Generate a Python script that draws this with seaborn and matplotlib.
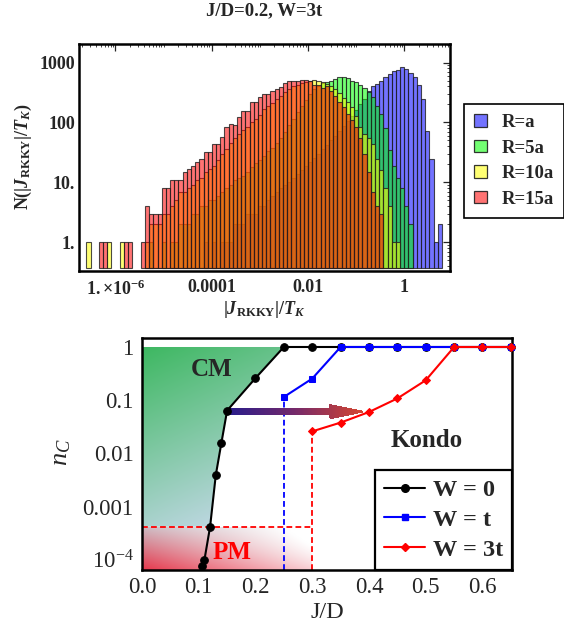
import numpy as np
import matplotlib
matplotlib.use("Agg")
import matplotlib.pyplot as plt
import seaborn as sns
from matplotlib.patches import Polygon, Rectangle
from matplotlib.lines import Line2D
from matplotlib.colors import LinearSegmentedColormap
from matplotlib.ticker import LogLocator, NullFormatter, MultipleLocator, FixedLocator

# --------------------------------------------------------------------------- #
# Data
# --------------------------------------------------------------------------- #
# Histogram of |J_RKKY|/T_K : bins are 0.2 wide in ln(x), first edge at ln x = -15.2
LN_START, LN_STEP = -15.2, 0.2

counts_r1 = [0, 0, 0, 0, 0, 0, 0, 0, 0, 0,
             0, 0, 0, 0, 0, 0, 0, 0, 0, 0,
             0, 0, 0, 0, 0, 0, 0, 0, 1, 0,
             1, 0, 1, 1, 1, 2, 2, 2, 3, 3,
             3, 4, 4, 5, 6, 7, 8, 9, 10, 12,
             14, 16, 19, 22, 26, 30, 36, 42, 50, 60,
             72, 88, 105, 130, 160, 200, 250, 330, 400, 440,
             500, 566, 650, 713, 760, 850, 780, 680, 580, 415,
             250, 73, 25, 1, 2]
counts_r5 = [0, 0, 0, 0, 0, 0, 0, 0, 0, 0,
             0, 0, 0, 0, 0, 1, 0, 0, 1, 0,
             1, 1, 2, 2, 2, 3, 3, 4, 4, 5,
             5, 6, 7, 8, 9, 11, 12, 13, 15, 18,
             21, 24, 28, 33, 38, 45, 55, 70, 90, 115,
             150, 190, 240, 300, 360, 410, 450, 470, 500, 535,
             566, 580, 550, 500, 470, 415, 370, 320, 270, 190,
             139, 80, 35, 19, 12, 8, 4, 2, 0, 0,
             0, 0, 0, 0, 0]
counts_r10 = [1, 0, 0, 0, 0, 1, 0, 0, 1, 0,
              0, 0, 0, 0, 1, 2, 2, 2, 3, 3,
              4, 5, 7, 7, 8, 9, 11, 12, 15, 17,
              19, 24, 30, 36, 45, 55, 65, 75, 85, 100,
              115, 135, 165, 190, 215, 245, 280, 320, 360, 400,
              430, 460, 480, 500, 515, 490, 470, 440, 400, 360,
              310, 260, 220, 180, 130, 85, 65, 55, 44, 25,
              16, 8, 4, 1, 1, 0, 0, 0, 0, 0,
              0, 0, 0, 0, 0]
counts_r15 = [0, 0, 0, 1, 1, 0, 0, 0, 0, 1,
              1, 0, 0, 1, 4, 3, 3, 3, 8, 8,
              11, 11, 11, 15, 17, 19, 22, 25, 32, 32,
              44, 44, 57, 83, 95, 89, 122, 158, 158, 218,
              218, 263, 300, 300, 340, 360, 390, 455, 485, 485,
              500, 520, 515, 500, 430, 420, 380, 400, 340, 280,
              220, 180, 140, 110, 85, 55, 30, 15, 7, 4,
              3, 0, 0, 0, 0, 0, 0, 0, 0, 0,
              0, 0, 0, 0, 0]
hist_labels = ["R=a", "R=5a", "R=10a", "R=15a"]

# Phase diagram n_C vs J/D
jd_w0 = [0.105, 0.11, 0.12, 0.13, 0.14, 0.15, 0.20, 0.25, 0.30, 0.35, 0.40, 0.45, 0.50, 0.55, 0.60, 0.65]
nc_w0 = [7.8e-5, 1.0e-4, 4.2e-4, 0.0039, 0.016, 0.064, 0.26, 1, 1, 1, 1, 1, 1, 1, 1, 1]
jd_wt = [0.25, 0.30, 0.35, 0.40, 0.45, 0.50, 0.55, 0.60, 0.65]
nc_wt = [0.115, 0.255, 1, 1, 1, 1, 1, 1, 1]
jd_w3t = [0.30, 0.35, 0.40, 0.45, 0.50, 0.55, 0.60, 0.65]
nc_w3t = [0.026, 0.038, 0.060, 0.108, 0.237, 1, 1, 1]
pm_boundary = 4.2e-4
arrow_from, arrow_to, arrow_level = 0.15, 0.387, 0.061

# --------------------------------------------------------------------------- #
# Style
# --------------------------------------------------------------------------- #
sns.set_style("white")
plt.rcParams.update({
    "font.family": "Liberation Serif",
    "mathtext.fontset": "custom",
    "mathtext.rm": "Liberation Serif",
    "mathtext.it": "Liberation Serif:italic",
    "mathtext.bf": "Liberation Serif:bold",
    "mathtext.bfit": "Liberation Serif:italic:bold",
    "axes.linewidth": 1.8,
    "axes.edgecolor": "black",
})

FIG_W, FIG_H = 564, 631
fig = plt.figure(figsize=(FIG_W / 100, FIG_H / 100), dpi=100)


def px_axes(left, top, right, bottom):
    return fig.add_axes([left / FIG_W, 1 - bottom / FIG_H,
                         (right - left) / FIG_W, (bottom - top) / FIG_H])


ax1 = px_axes(79, 44, 450, 271)
ax2 = px_axes(142, 338, 512, 570)

# --------------------------------------------------------------------------- #
# Top: layered histograms
# --------------------------------------------------------------------------- #
n_bins = len(counts_r1)
log_edges = (LN_START + LN_STEP * np.arange(n_bins + 1)) / np.log(10)
centers = 10 ** (0.5 * (log_edges[:-1] + log_edges[1:]))
hist_colors = [(0, 0, 1), (0, 1, 0), (1, 1, 0), (1, 0, 0)]
BAR_BASE = 0.37

for counts, rgb in zip([counts_r1, counts_r5, counts_r10, counts_r15], hist_colors):
    n0 = len(ax1.patches)
    sns.histplot(x=centers, weights=np.asarray(counts, float),
                 binwidth=LN_STEP / np.log(10),
                 binrange=(log_edges[0], log_edges[-1] - 1e-9),
                 log_scale=True, ax=ax1, color=rgb, legend=False)
    for p in ax1.patches[n0:]:
        c = p.get_height()
        if c <= 0.5:
            p.set_visible(False)
            continue
        p.set_alpha(None)
        p.set_facecolor((*rgb, 0.55))
        p.set_edgecolor((0.12, 0.12, 0.12, 0.8))
        p.set_linewidth(0.8)
        p.set_y(BAR_BASE)
        p.set_height(c - BAR_BASE)

ax1.set_yscale("log")
ax1.set_xlim(10 ** -6.755, 10 ** 0.95)
ax1.set_ylim(10 ** -0.48, 10 ** 3.31)
ax1.set_xticks([1e-6, 1e-4, 1e-2, 1],
               [r"$\mathbf{1.{\times}10^{-6}}$", "0.0001", "0.01", "1"])
ax1.set_yticks([1, 10, 100, 1000], ["1.", "10.", "100", "1000"])
ax1.xaxis.set_minor_locator(LogLocator(base=10, subs=np.arange(1, 10), numticks=200))
ax1.yaxis.set_minor_locator(LogLocator(base=10, subs=np.arange(2, 10), numticks=200))
ax1.xaxis.set_minor_formatter(NullFormatter())
ax1.yaxis.set_minor_formatter(NullFormatter())
ax1.tick_params(which="both", direction="in", top=True, right=True, labelsize=13)
ax1.tick_params(which="major", length=5, width=0.9)
ax1.tick_params(which="minor", length=2.5, width=0.6)
ax1.tick_params(axis="x", pad=6)
ax1.tick_params(axis="y", pad=3)
for lab in ax1.get_xticklabels() + ax1.get_yticklabels():
    lab.set_fontweight("bold")
ax1.set_xlabel("")
ax1.set_ylabel("")

fig.text(264 / FIG_W, 1 - 11 / FIG_H, "J/D=0.2, W=3t", ha="center", va="center",
         fontsize=13.5, fontweight="bold")
fig.text(264 / FIG_W, 1 - 309 / FIG_H,
         r"$\mathbf{|}\mathbfit{J}_{\mathbf{RKKY}}\mathbf{|/}\mathbfit{T}_{\mathbfit{K}}$",
         ha="center", va="center", fontsize=13)
fig.text(23 / FIG_W, 1 - 157 / FIG_H,
         r"$\mathbf{N(|}\mathbfit{J}_{\mathbf{RKKY}}\mathbf{|/}\mathbfit{T}_{\mathbfit{K}}\mathbf{)}$",
         ha="center", va="center", rotation=90, fontsize=13)

hist_handles = [Rectangle((0, 0), 1, 1, facecolor=(*c, 0.55),
                          edgecolor=(0.12, 0.12, 0.12, 0.9), linewidth=0.9)
                for c in hist_colors]
leg1 = fig.legend(hist_handles, hist_labels, loc="upper left",
                  bbox_to_anchor=(464 / FIG_W, 1 - 104 / FIG_H),
                  frameon=True, fancybox=False, edgecolor="black", framealpha=1,
                  prop={"family": "Liberation Serif", "weight": "bold", "size": 13.5},
                  handlelength=0.65, handleheight=0.65, handletextpad=0.8,
                  labelspacing=0.45, borderpad=0.55, borderaxespad=0)
leg1.get_frame().set_linewidth(1.2)

# --------------------------------------------------------------------------- #
# Bottom: phase diagram
# --------------------------------------------------------------------------- #
ax2.set_yscale("log")
XMAX = 0.652
LOG_LO, LOG_HI = -4.19, 0.169
y_lo = 10 ** LOG_LO

# gradient fills, computed on an axes-fraction grid and clipped to the regions
U, V = np.meshgrid(np.linspace(0, 1, 400), np.linspace(0, 1, 400))
xg = U * XMAX
lg = LOG_LO + V * (LOG_HI - LOG_LO)

green = np.array([0.24, 0.72, 0.38])
pale = np.array([0.77, 0.85, 0.91])
s = np.clip(xg / jd_w0[7], 0, 1)
r = np.clip(-lg / -np.log10(pm_boundary), 0, 1)
t = np.clip(0.3 * s + 0.8 * r, 0, 1)[..., None]
cm_img = green * (1 - t) + pale * t

red = np.array([0.90, 0.22, 0.30])
greypink = np.array([0.80, 0.74, 0.77])
w = np.clip((lg - LOG_LO) / (np.log10(pm_boundary) - LOG_LO), 0, 1)[..., None]
h = np.clip(xg / jd_w3t[0], 0, 1)[..., None]
left_col = red * (1 - w) + greypink * w
f = np.clip(h * (0.75 + 0.45 * w), 0, 1)
pm_img = left_col * (1 - f) + np.ones(3) * f

cm_poly = Polygon([(0, pm_boundary)] + list(zip(jd_w0[2:8], nc_w0[2:8])) + [(0, 1)],
                  closed=True, transform=ax2.transData)
pm_poly = Polygon([(0, y_lo), (jd_w3t[0], y_lo), (jd_w3t[0], pm_boundary), (0, pm_boundary)],
                  closed=True, transform=ax2.transData)
for img, poly in [(cm_img, cm_poly), (pm_img, pm_poly)]:
    im = ax2.imshow(img, extent=(0, 1, 0, 1), transform=ax2.transAxes, origin="lower",
                    aspect="auto", interpolation="bilinear", zorder=0)
    im.set_clip_path(poly)

# dashed guide lines
dash = (0, (3.2, 1.8))
ax2.plot([jd_wt[0], jd_wt[0]], [y_lo, nc_wt[0]], color="blue", lw=1.3, ls=dash, zorder=2)
ax2.plot([jd_w3t[0], jd_w3t[0]], [y_lo, nc_w3t[0]], color="red", lw=1.3, ls=dash, zorder=2)
ax2.plot([0, jd_w3t[0]], [pm_boundary, pm_boundary], color="red", lw=1.3, ls=dash, zorder=2)

# gradient arrow
arrow_cmap = LinearSegmentedColormap.from_list(
    "arrow", [(0.15, 0.11, 0.55), (0.45, 0.16, 0.42), (0.82, 0.27, 0.20)])
head_start = 0.331
shaft_half, head_half = 0.05, 0.125
xs = np.linspace(arrow_from, head_start, 80)
ax2.pcolormesh(xs, [arrow_level * 10 ** -shaft_half, arrow_level * 10 ** shaft_half],
               (0.5 * (xs[:-1] + xs[1:]))[None, :], cmap=arrow_cmap,
               vmin=arrow_from, vmax=arrow_to, shading="flat", antialiased=False,
               edgecolors="face", linewidth=0.3, zorder=2.5)
xh = np.linspace(head_start, arrow_to, 40)
th = (xh - head_start) / (arrow_to - head_start)
Xh = np.vstack([xh, xh])
Yh = np.vstack([arrow_level * 10 ** (-head_half * (1 - th)),
                arrow_level * 10 ** (head_half * (1 - th))])
ax2.pcolormesh(Xh, Yh, (0.5 * (xh[:-1] + xh[1:]))[None, :], cmap=arrow_cmap,
               vmin=arrow_from, vmax=arrow_to, shading="flat", antialiased=False,
               edgecolors="face", linewidth=0.3, zorder=2.5)

# series
line_kw = dict(ax=ax2, estimator=None, sort=False, legend=False, clip_on=False)
sns.lineplot(x=jd_w0, y=nc_w0, color="black", marker="o", markersize=5.5,
             markeredgecolor="black", linewidth=1.5, zorder=4, **line_kw)
sns.lineplot(x=jd_wt, y=nc_wt, color="blue", marker="s", markersize=4.5,
             markeredgecolor="blue", linewidth=1.5, zorder=4.1, **line_kw)
sns.lineplot(x=jd_w3t, y=nc_w3t, color="red", marker="D", markersize=4,
             markeredgecolor="red", linewidth=1.5, zorder=4.2, **line_kw)

ax2.set_xlim(0, XMAX)
ax2.set_ylim(10 ** LOG_LO, 10 ** LOG_HI)
ax2.set_xticks([0.0, 0.1, 0.2, 0.3, 0.4, 0.5, 0.6],
               ["0.0", "0.1", "0.2", "0.3", "0.4", "0.5", "0.6"])
ax2.xaxis.set_minor_locator(MultipleLocator(0.01))
ax2.set_yticks([1e-4, 1e-3, 1e-2, 0.1, 1], [r"$10^{-4}$", "0.001", "0.01", "0.1", "1"])
ax2.yaxis.set_minor_locator(FixedLocator([]))
ax2.tick_params(which="both", direction="in", labelsize=16.5)
ax2.tick_params(which="major", length=4, width=1.0)
ax2.tick_params(which="minor", length=3, width=1.0)
ax2.tick_params(axis="x", pad=5)
ax2.tick_params(axis="y", pad=6)
ax2.set_xlabel("")
ax2.set_ylabel("")

ax2.text(0.123, 0.37, "CM", ha="center", va="center", fontsize=18, fontweight="bold", zorder=5)
ax2.text(0.158, 1.35e-4, "PM", ha="center", va="center", fontsize=18, fontweight="bold",
         color="red", zorder=5)
ax2.text(0.501, 0.0178, "Kondo", ha="center", va="center", fontsize=18, fontweight="bold",
         zorder=5)

fig.text(327 / FIG_W, 1 - 612 / FIG_H, "J/D", ha="center", va="center", fontsize=17.5)
fig.text(62 / FIG_W, 1 - 452 / FIG_H, r"$n_C$", ha="center", va="center",
         rotation=90, fontsize=19)

series_handles = [
    Line2D([], [], color="black", marker="o", markersize=5.5, linewidth=1.5),
    Line2D([], [], color="blue", marker="s", markersize=4.5, linewidth=1.5),
    Line2D([], [], color="red", marker="D", markersize=4, linewidth=1.5),
]
leg2 = ax2.legend(series_handles, ["W = 0", "W = t", "W = 3t"], loc="lower right",
                  bbox_to_anchor=(1, 0), borderaxespad=0, frameon=True, fancybox=False,
                  edgecolor="black", framealpha=1,
                  prop={"family": "Liberation Serif", "weight": "bold", "size": 17.5},
                  handlelength=1.7, handletextpad=0.3, labelspacing=0.32, borderpad=0.38)
leg2.get_frame().set_linewidth(1.6)
leg2.set_zorder(6)

fig.savefig("out.png", dpi=100)
